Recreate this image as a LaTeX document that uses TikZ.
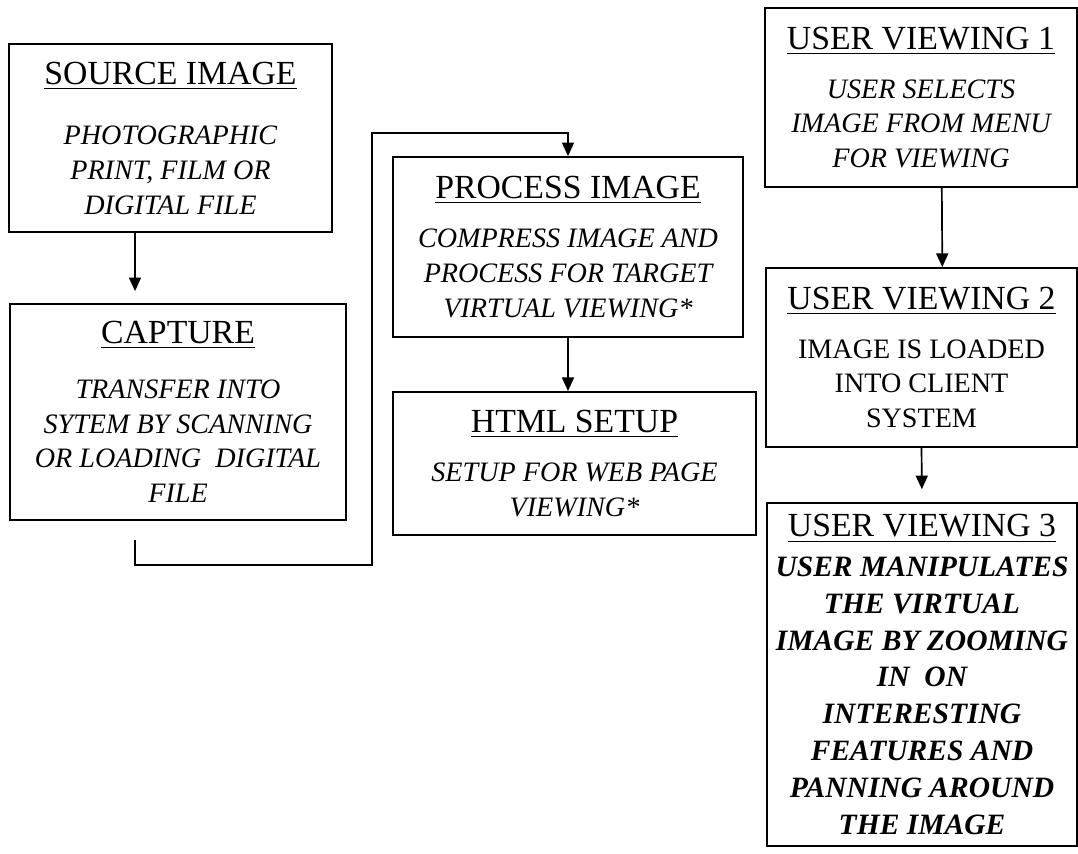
\documentclass[tikz,border=0pt]{standalone}
\usepackage{fontspec}
\setmainfont{Liberation Serif}
\usetikzlibrary{arrows.meta}
\tikzset{
  stage/.style={draw, line width=0.6pt, inner sep=0pt, align=center,
    font=\fontsize{10}{12.4}\selectfont\itshape},
  arrow/.style={-{Triangle[width=0.15cm,length=0.17cm]}, line width=0.6pt}
}
\newcommand{\stagetitle}[2][5pt]{{\upshape\mdseries\fontsize{12}{14}\selectfont\underline{#2}}\\[#1]}

\begin{document}
\begin{tikzpicture}[x=0.0125cm,y=-0.0125cm]
  \useasboundingbox (0,0) rectangle (1078,854);

  \node[stage,minimum width=4.04cm,minimum height=2.35cm] (src) at (170.5,138)
    {\stagetitle[9pt]{SOURCE IMAGE}PHOTOGRAPHIC\\PRINT, FILM OR\\DIGITAL FILE};
  \node[stage,minimum width=4.2cm,minimum height=2.7cm] (capture) at (178,412)
    {\stagetitle[7pt]{CAPTURE}TRANSFER INTO\\SYTEM BY SCANNING\\OR LOADING \ DIGITAL\\FILE};
  \node[stage,minimum width=4.375cm,minimum height=2.25cm] (proc) at (568,247)
    {\stagetitle{PROCESS IMAGE}COMPRESS IMAGE AND\\PROCESS FOR TARGET\\VIRTUAL VIEWING*};
  \node[stage,minimum width=4.54cm,minimum height=1.79cm] (html) at (574.5,463.5)
    {\stagetitle{HTML SETUP}SETUP FOR WEB PAGE\\VIEWING*};

  \node[stage,minimum width=3.9cm,minimum height=2.24cm] (uv1) at (921,97.5)
    {\stagetitle{USER VIEWING 1}USER SELECTS\\IMAGE FROM MENU\\FOR VIEWING};
  \node[stage,minimum width=3.89cm,minimum height=2.24cm] (uv2) at (921.5,357.5)
    {\stagetitle{USER VIEWING 2}\upshape IMAGE IS LOADED\\\upshape INTO CLIENT\\\upshape SYSTEM};
  \node[stage,minimum width=3.875cm,minimum height=4.29cm,
    font=\fontsize{10.5}{13.1}\selectfont\bfseries\itshape] (uv3) at (922,674.5)
    {\stagetitle[1pt]{USER VIEWING 3}USER MANIPULATES\\THE VIRTUAL\\IMAGE BY ZOOMING\\IN \ ON\\INTERESTING\\FEATURES AND\\PANNING AROUND\\THE IMAGE};

  \coordinate (capout) at (135,540);
  \coordinate (loop) at (372,565);
  \coordinate (looptop) at (372,133);

  \draw[arrow,shorten >=0.15cm] (src.south -| capout) -- (capture.north -| capout);
  \draw[arrow] (capout) |- (loop) -- (looptop) -| (proc.north);
  \draw[arrow] (proc.south) -- (proc.south |- html.north);
  \draw[arrow] ([xshift=0.26cm]uv1.south) -- ([xshift=0.26cm]uv2.north);
  \draw[arrow,shorten >=0.16cm] (uv2.south) -- (uv3.north);
\end{tikzpicture}
\end{document}
